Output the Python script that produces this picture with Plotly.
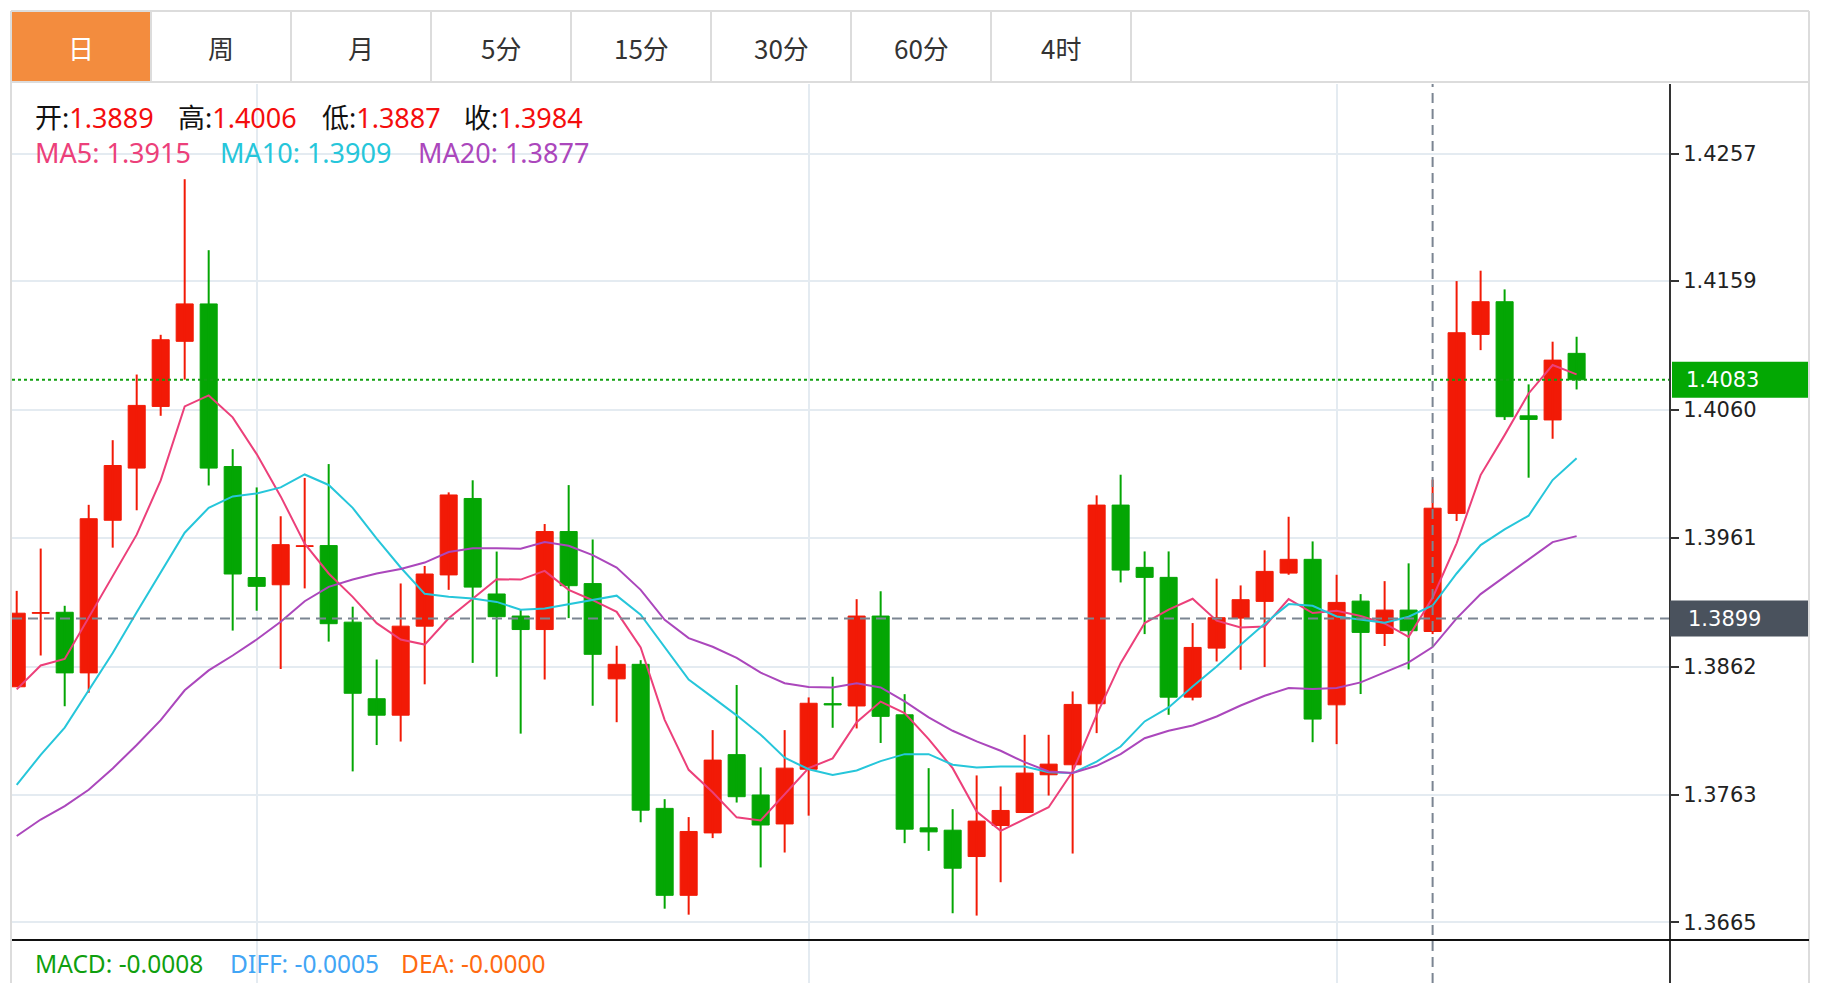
import plotly.graph_objects as go

W, H = 1828, 983          # browser window
OFF = 8                   # default page body margin
FW, FH = W - OFF, H - OFF   # figure reaches the window's right/bottom edges

# ---------------- data ----------------
opens = [1.38464, 1.39030, 1.39038, 1.38571, 1.39747, 1.40149, 1.40624, 1.41126, 1.41414, 1.40161,
         1.39306, 1.39250, 1.39545, 1.39552, 1.38962, 1.38372, 1.38245, 1.38931, 1.39326, 1.39915,
         1.39179, 1.39009, 1.38905, 1.39660, 1.39259, 1.38525, 1.38637, 1.37527, 1.36857, 1.37338,
         1.37941, 1.37630, 1.37407, 1.37829, 1.38334, 1.38316, 1.39009, 1.38248, 1.37377, 1.37359,
         1.37156, 1.37395, 1.37495, 1.37786, 1.37863, 1.38333, 1.39864, 1.39384, 1.39307, 1.38384,
         1.38762, 1.38993, 1.39122, 1.39340, 1.39446, 1.38325, 1.39124, 1.38875, 1.39055, 1.38890,
         1.39800, 1.41179, 1.41431, 1.40552, 1.40520, 1.41033]
highs = [1.39203, 1.39529, 1.39088, 1.39866, 1.40364, 1.40870, 1.41176, 1.42375, 1.41828, 1.40295,
         1.40000, 1.39778, 1.40073, 1.40180, 1.39081, 1.38674, 1.39260, 1.39395, 1.39962, 1.40055,
         1.39506, 1.39060, 1.39718, 1.40018, 1.39599, 1.38780, 1.38669, 1.37598, 1.37460, 1.38130,
         1.38478, 1.37843, 1.38130, 1.38382, 1.38541, 1.39139, 1.39200, 1.38407, 1.37837, 1.37521,
         1.37781, 1.37696, 1.38094, 1.38094, 1.38428, 1.39939, 1.40098, 1.39507, 1.39507, 1.38955,
         1.39297, 1.39245, 1.39515, 1.39774, 1.39584, 1.39327, 1.39178, 1.39278, 1.39415, 1.40060,
         1.41590, 1.41670, 1.41526, 1.40794, 1.41123, 1.41161]
lows = [1.38464, 1.38705, 1.38314, 1.38418, 1.39536, 1.39824, 1.40552, 1.40831, 1.40015, 1.38897,
        1.39050, 1.38601, 1.39222, 1.38812, 1.37812, 1.38015, 1.38042, 1.38483, 1.39211, 1.38648,
        1.38541, 1.38103, 1.38520, 1.38993, 1.38318, 1.38191, 1.37420, 1.36754, 1.36708, 1.37298,
        1.37572, 1.37072, 1.37187, 1.37471, 1.38148, 1.38143, 1.38031, 1.37259, 1.37200, 1.36719,
        1.36701, 1.36958, 1.37495, 1.37626, 1.37179, 1.38107, 1.39268, 1.38870, 1.38248, 1.38359,
        1.38659, 1.38595, 1.38616, 1.39327, 1.38037, 1.38022, 1.38408, 1.38778, 1.38598, 1.38870,
        1.39741, 1.41058, 1.40520, 1.40075, 1.40375, 1.40755]
closes = [1.39031, 1.39036, 1.38571, 1.39759, 1.40169, 1.40632, 1.41138, 1.41414, 1.40149, 1.39333,
          1.39238, 1.39559, 1.39551, 1.38950, 1.38414, 1.38245, 1.38931, 1.39333, 1.39942, 1.39232,
          1.39004, 1.38905, 1.39660, 1.39243, 1.38714, 1.38637, 1.37513, 1.36857, 1.37349, 1.37899,
          1.37617, 1.37399, 1.37837, 1.38337, 1.38324, 1.39009, 1.38236, 1.37367, 1.37346, 1.37066,
          1.37429, 1.37511, 1.37799, 1.37868, 1.38328, 1.39864, 1.39363, 1.39307, 1.38384, 1.38767,
          1.38996, 1.39135, 1.39353, 1.39446, 1.38215, 1.39114, 1.38883, 1.39055, 1.38896, 1.39840,
          1.41192, 1.41431, 1.40545, 1.40524, 1.40981, 1.40830]
ma5 = [1.38444, 1.38628, 1.38678, 1.38996, 1.39318, 1.39636, 1.40054, 1.40624, 1.40709, 1.40540,
       1.40257, 1.39931, 1.39567, 1.39337, 1.39157, 1.38954, 1.38828, 1.38789, 1.38992, 1.39144,
       1.39293, 1.39290, 1.39357, 1.39211, 1.39131, 1.39041, 1.38767, 1.38209, 1.37824, 1.37651,
       1.37458, 1.37434, 1.37638, 1.37837, 1.37912, 1.38191, 1.38350, 1.38261, 1.38061, 1.37837,
       1.37503, 1.37354, 1.37444, 1.37536, 1.37811, 1.38248, 1.38646, 1.38955, 1.39058, 1.39142,
       1.38973, 1.38921, 1.38929, 1.39140, 1.39032, 1.39050, 1.39009, 1.38952, 1.38849, 1.39150,
       1.39569, 1.40095, 1.40403, 1.40724, 1.40943, 1.40871]
ma10 = [1.37709, 1.37939, 1.38149, 1.38437, 1.38724, 1.39038, 1.39345, 1.39651, 1.39843, 1.39931,
        1.39954, 1.40000, 1.40100, 1.40019, 1.39843, 1.39605, 1.39383, 1.39180, 1.39157, 1.39144,
        1.39118, 1.39057, 1.39067, 1.39099, 1.39131, 1.39166, 1.39019, 1.38767, 1.38520, 1.38382,
        1.38244, 1.38095, 1.37917, 1.37829, 1.37784, 1.37819, 1.37891, 1.37945, 1.37945, 1.37863,
        1.37842, 1.37850, 1.37850, 1.37806, 1.37799, 1.37888, 1.38004, 1.38197, 1.38305, 1.38467,
        1.38621, 1.38788, 1.38950, 1.39101, 1.39088, 1.39006, 1.38983, 1.38957, 1.39004, 1.39090,
        1.39337, 1.39556, 1.39677, 1.39782, 1.40057, 1.40224]
ma20 = [1.37314, 1.37441, 1.37544, 1.37670, 1.37835, 1.38015, 1.38207, 1.38437, 1.38590, 1.38705,
        1.38828, 1.38965, 1.39123, 1.39234, 1.39291, 1.39337, 1.39372, 1.39421, 1.39502, 1.39532,
        1.39532, 1.39527, 1.39580, 1.39551, 1.39479, 1.39383, 1.39211, 1.38980, 1.38839, 1.38772,
        1.38687, 1.38573, 1.38491, 1.38462, 1.38459, 1.38491, 1.38459, 1.38351, 1.38228, 1.38125,
        1.38043, 1.37971, 1.37883, 1.37811, 1.37799, 1.37855, 1.37945, 1.38068, 1.38125, 1.38166,
        1.38235, 1.38320, 1.38395, 1.38454, 1.38446, 1.38454, 1.38498, 1.38575, 1.38652, 1.38770,
        1.38991, 1.39178, 1.39312, 1.39445, 1.39579, 1.39625]
days = list(range(len(opens)))
price_ticks = ["1.3665", "1.3763", "1.3862", "1.3961", "1.4060", "1.4159", "1.4257"]
month_starts = [10, 33, 55]
tabs = ["日", "周", "月", "5分", "15分", "30分", "60分", "4时"]
cursor_day = 59
cursor_price = 1.3899
last_price = 1.4083
header_vals = [("开", "1.3889"), ("高", "1.4006"), ("低", "1.3887"), ("收", "1.3984")]
ma_vals = [("MA5", "1.3915"), ("MA10", "1.3909"), ("MA20", "1.3877")]
macd_vals = [("MACD", "-0.0008"), ("DIFF", "-0.0005"), ("DEA", "-0.0000")]

# ---------------- style ----------------
RED = "#f21a06"
GREEN = "#04a604"
MA_COLORS = ["#ec407a", "#26c6da", "#ab47bc"]
GRID = "#e4ebf1"
BORDER = "#dcdcdc"
CJK = "Noto Sans, Noto Sans CJK SC, sans-serif"
TICKFONT = "DejaVu Sans"


def px(x):
    return (x - OFF) / FW


def py(y):
    return 1 - (y - OFF) / FH


fig = go.Figure()

# wicks
for col, up in ((RED, True), (GREEN, False)):
    xs, ys = [], []
    for d, o, h, l, c in zip(days, opens, highs, lows, closes):
        if (c >= o) == up:
            xs += [d, d, None]
            ys += [l, h, None]
    fig.add_trace(go.Scatter(x=xs, y=ys, mode="lines", line=dict(color=col, width=2),
                             hoverinfo="skip", showlegend=False))

# bodies
body_cols = [RED if c >= o else GREEN for o, c in zip(opens, closes)]
fig.add_trace(go.Bar(x=days, y=[abs(c - o) for o, c in zip(opens, closes)],
                     base=[min(o, c) for o, c in zip(opens, closes)], width=0.71,
                     marker=dict(color=body_cols, line=dict(color=body_cols, width=1)),
                     hoverinfo="skip", showlegend=False))

# moving averages
for vals, col in zip((ma5, ma10, ma20), MA_COLORS):
    fig.add_trace(go.Scatter(x=days, y=vals, mode="lines", line=dict(color=col, width=2),
                             hoverinfo="skip", showlegend=False))

X0, X1 = 12, 1669
TOP, BOT = 84, H
ppu = 12978.0
y_top_price = 1.4257 + (153.9 - TOP) / ppu
y_bot_price = 1.4257 - (BOT - 153.9) / ppu

fig.update_layout(
    width=FW, height=FH, margin=dict(l=0, r=0, t=0, b=0),
    paper_bgcolor="white", plot_bgcolor="white", showlegend=False, barmode="overlay",
    xaxis=dict(domain=[px(X0), px(X1)], range=[-0.196, 68.85], tickvals=month_starts,
               showticklabels=False, ticks="", showgrid=True, gridcolor=GRID, gridwidth=2,
               zeroline=False, showline=False, fixedrange=True),
    yaxis=dict(domain=[py(BOT), py(TOP)], range=[y_bot_price, y_top_price], side="right",
               tickvals=[float(t) for t in price_ticks], ticktext=price_ticks,
               ticks="outside", ticklen=8, tickwidth=2, tickcolor="#333",
               showline=True, linecolor="#333", linewidth=2, showgrid=True, gridcolor=GRID,
               gridwidth=2, zeroline=False, tickfont=dict(family=TICKFONT, size=21, color="#222"),
               fixedrange=True),
)

shapes = []
ann = []
# tab bar
shapes.append(dict(type="rect", xref="paper", yref="paper", x0=px(11), x1=px(151), y0=py(82), y1=py(11),
                   fillcolor="#f38c3e", line=dict(width=0), layer="above"))
for yy in (11, 82):
    shapes.append(dict(type="line", xref="paper", yref="paper", x0=px(11), x1=px(1809), y0=py(yy), y1=py(yy),
                       line=dict(color=BORDER, width=2), layer="above"))
for k in range(1, len(tabs) + 1):
    xx = 11 + 140 * k
    shapes.append(dict(type="line", xref="paper", yref="paper", x0=px(xx), x1=px(xx), y0=py(82), y1=py(11),
                       line=dict(color=BORDER, width=2), layer="above"))
for k, t in enumerate(tabs):
    ann.append(dict(text=t, x=px(81 + 140 * k), y=py(48), xref="paper", yref="paper", showarrow=False,
                    xanchor="center", yanchor="middle",
                    font=dict(family="Noto Sans CJK SC", size=26, color="white" if k == 0 else "#333")))
# outer borders
for xx in (11, 1809):
    shapes.append(dict(type="line", xref="paper", yref="paper", x0=px(xx), x1=px(xx), y0=0, y1=py(11),
                       line=dict(color=BORDER, width=2), layer="above"))
# MACD separator
shapes.append(dict(type="line", xref="paper", yref="paper", x0=px(12), x1=px(1809), y0=py(940), y1=py(940),
                   line=dict(color="#111", width=2), layer="above"))
# last price dotted line + cursor lines
shapes.append(dict(type="line", xref="paper", yref="y", x0=px(X0), x1=px(X1), y0=last_price, y1=last_price,
                   line=dict(color="#10a010", width=2, dash="dot"), layer="above"))
shapes.append(dict(type="line", xref="paper", yref="y", x0=px(X0), x1=px(X1), y0=cursor_price, y1=cursor_price,
                   line=dict(color="#7b8592", width=2, dash="10px,6px"), layer="above"))
shapes.append(dict(type="line", xref="x", yref="paper", x0=cursor_day, x1=cursor_day, y0=0, y1=py(TOP),
                   line=dict(color="#7b8592", width=2, dash="10px,6px"), layer="above"))
# price label boxes
half = 18 / ppu
shapes.append(dict(type="rect", xref="paper", yref="y", x0=px(1672), x1=px(1808),
                   y0=last_price - half, y1=last_price + half, fillcolor="#03a803", line=dict(width=0), layer="above"))
shapes.append(dict(type="rect", xref="paper", yref="y", x0=px(1670), x1=px(1808),
                   y0=cursor_price - half, y1=cursor_price + half, fillcolor="#4a525d", line=dict(width=0), layer="above"))
ann.append(dict(text=f"{last_price:.4f}", x=px(1684), y=last_price, xref="paper", yref="y", showarrow=False,
                xanchor="left", yanchor="middle", font=dict(family=TICKFONT, size=21, color="white")))
ann.append(dict(text=f"{cursor_price:.4f}", x=px(1686), y=cursor_price, xref="paper", yref="y", showarrow=False,
                xanchor="left", yanchor="middle", font=dict(family=TICKFONT, size=21, color="white")))

# header texts
for (lab, v), xx in zip(header_vals, (33, 176, 320, 462)):
    ann.append(dict(text=f"{lab}:<span style='color:#f40d0d'>{v}</span>", x=px(xx), y=py(117),
                    xref="paper", yref="paper", showarrow=False, xanchor="left", yanchor="middle",
                    font=dict(family=CJK, size=27, color="#111")))
for (lab, v), xx, col in zip(ma_vals, (33, 218, 416), MA_COLORS):
    ann.append(dict(text=f"{lab}: {v}", x=px(xx), y=py(152), xref="paper", yref="paper", showarrow=False,
                    xanchor="left", yanchor="middle", font=dict(family=CJK, size=27, color=col)))
for (lab, v), xx, col in zip(macd_vals, (33, 228, 399), ("#0f9f0f", "#42a5f5", "#ff6a10")):
    ann.append(dict(text=f"{lab}: {v}", x=px(xx), y=py(963), xref="paper", yref="paper", showarrow=False,
                    xanchor="left", yanchor="middle", font=dict(family=CJK, size=24.5, color=col)))

fig.update_layout(shapes=shapes, annotations=ann)
fig.write_html("out.html", config={"displayModeBar": False})
